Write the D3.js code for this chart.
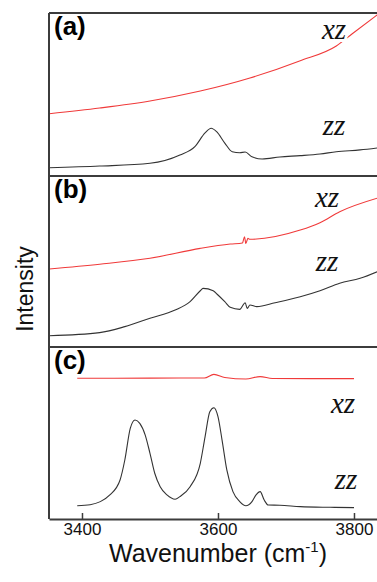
<!DOCTYPE html>
<html>
<head>
<meta charset="utf-8">
<script src="https://cdn.jsdelivr.net/npm/d3@7"></script>
<style>
  body { margin: 0; background: #fff; }
  svg { display: block; }
</style>
</head>
<body>
<div id="chart"></div>
<script>
// Raman spectra, intensity in arbitrary units (0-100 per panel)
const panelNames = ['(a)', '(b)', '(c)']

const aXzWave = [3352, 3426, 3500, 3574, 3647, 3720, 3774, 3797, 3834]
const aXzInt = [38.2, 41.7, 46.0, 52.1, 60.1, 70.6, 79.8, 87.1, 98.8]
const aZzWave = [3352, 3426, 3500, 3544, 3566, 3581, 3590, 3598, 3610, 3621, 3632, 3640, 3650, 3665, 3691, 3721, 3750, 3774, 3809, 3834]
const aZzInt = [5.1, 6.1, 7.8, 12.9, 18.0, 26.4, 29.3, 27.2, 20.2, 14.9, 14.3, 14.7, 11.8, 10.4, 11.7, 12.5, 13.5, 14.9, 16.0, 17.2]

const bXzWave = [3352, 3426, 3500, 3574, 3618, 3636, 3639, 3641, 3644, 3647, 3721, 3750, 3779, 3834]
const bXzInt = [45.6, 48.4, 51.9, 57.7, 60.2, 60.8, 64.5, 60.5, 63.5, 63.0, 68.4, 72.7, 79.1, 87.0]
const bZzWave = [3352, 3426, 3463, 3500, 3537, 3559, 3574, 3578, 3593, 3600, 3610, 3618, 3632, 3640, 3643, 3647, 3657, 3684, 3721, 3750, 3779, 3809, 3834]
const bZzInt = [6.6, 8.4, 11.9, 16.8, 21.6, 26.5, 32.9, 34.3, 32.9, 30.4, 26.5, 23.2, 22.0, 25.9, 22.6, 24.6, 23.6, 25.9, 29.4, 32.9, 37.3, 40.2, 44.0]

const cXzWave = [3393, 3500, 3580, 3594, 3610, 3641, 3662, 3680, 3740, 3800]
const cXzInt = [81.8, 81.9, 82.0, 84.1, 82.3, 81.4, 82.8, 81.7, 81.6, 81.6]
const cZzWave = [3393, 3412, 3427, 3441, 3456, 3463, 3471, 3478, 3485, 3493, 3500, 3507, 3515, 3525, 3537, 3544, 3559, 3574, 3581, 3588, 3594, 3600, 3606, 3613, 3622, 3632, 3641, 3650, 3656, 3662, 3668, 3674, 3691, 3721, 3765, 3800]
const cZzInt = [7.7, 8.3, 10.1, 14.0, 22.7, 34.3, 52.7, 57.6, 55.6, 48.8, 38.2, 26.6, 18.8, 14.0, 11.5, 13.0, 18.8, 32.4, 47.8, 62.4, 64.7, 59.5, 45.9, 28.5, 15.9, 10.1, 7.7, 10.1, 14.0, 15.9, 11.0, 8.1, 8.0, 7.2, 6.8, 6.6]

const xTicks = [3400, 3600, 3800]

const WIDTH = 377
const HEIGHT = 582
const MARGIN = { left: 49, top: 13 }
const PLOT_WIDTH = 340 // runs past the right edge of the window, like the original
const PANEL_HEIGHTS = [163, 171, 172]
const RED = '#f03a3a'
const DARK = '#333'
const FRAME = '#3c3c3c'

const panels = [
  {
    name: panelNames[0],
    xz: d3.zip(aXzWave, aXzInt),
    zz: d3.zip(aZzWave, aZzInt),
    xzLabel: [334, 39],
    zzLabel: [334, 135]
  },
  {
    name: panelNames[1],
    xz: d3.zip(bXzWave, bXzInt),
    zz: d3.zip(bZzWave, bZzInt),
    xzLabel: [327, 207],
    zzLabel: [327, 271]
  },
  {
    name: panelNames[2],
    xz: d3.zip(cXzWave, cXzInt),
    zz: d3.zip(cZzWave, cZzInt),
    xzLabel: [343, 413],
    zzLabel: [346, 489]
  }
]

const svg = d3.select('#chart')
  .append('svg')
  .attr('width', WIDTH)
  .attr('height', HEIGHT)

const xScale = d3.scaleLinear()
  .domain([3351.5, 3851.5])
  .range([MARGIN.left, MARGIN.left + PLOT_WIDTH])

let yTop = MARGIN.top
panels.forEach(function (p, i) {
  const h = PANEL_HEIGHTS[i]
  const yScale = d3.scaleLinear()
    .domain([0, 100])
    .range([yTop + h, yTop])

  const line = d3.line()
    .x(d => xScale(d[0]))
    .y(d => yScale(d[1]))
    .curve(d3.curveMonotoneX)

  const g = svg.append('g').attr('class', 'panel')

  g.append('path')
    .datum(p.zz)
    .attr('fill', 'none')
    .attr('stroke', DARK)
    .attr('stroke-width', 1.1)
    .attr('d', line)

  g.append('path')
    .datum(p.xz)
    .attr('fill', 'none')
    .attr('stroke', RED)
    .attr('stroke-width', 1.1)
    .attr('d', line)

  // panel letter
  g.append('text')
    .attr('x', 54)
    .attr('y', yTop + 22)
    .attr('font-family', 'Liberation Sans, Arial, sans-serif')
    .attr('font-weight', 'bold')
    .attr('font-size', 26)
    .text(p.name)

  // polarisation labels, white halo breaks the line behind them
  const labels = [['xz', p.xzLabel], ['zz', p.zzLabel]]
  labels.forEach(function (l) {
    g.append('text')
      .attr('x', l[1][0])
      .attr('y', l[1][1])
      .attr('text-anchor', 'middle')
      .attr('font-family', 'Liberation Serif, Times New Roman, serif')
      .attr('font-style', 'italic')
      .attr('font-size', 29)
      .attr('fill', '#111')
      .attr('stroke', '#fff')
      .attr('stroke-width', 6)
      .attr('paint-order', 'stroke')
      .text(l[0])
  })

  // separator / top line
  svg.append('line')
    .attr('x1', MARGIN.left)
    .attr('x2', WIDTH)
    .attr('y1', yTop)
    .attr('y2', yTop)
    .attr('stroke', FRAME)
    .attr('stroke-width', 2)

  yTop += h
})

// bottom axis with inward ticks
const xAxis = svg.append('g')
  .attr('transform', 'translate(0,' + yTop + ')')
  .call(d3.axisBottom(xScale)
    .tickValues(xTicks)
    .tickSizeInner(-6)
    .tickSizeOuter(0)
    .tickPadding(4)
    .tickFormat(d3.format('d')))
xAxis.select('.domain').attr('stroke', FRAME).attr('stroke-width', 2)
xAxis.selectAll('.tick line').attr('stroke', FRAME).attr('stroke-width', 1.5)
xAxis.selectAll('.tick text')
  .attr('font-family', 'Liberation Sans, Arial, sans-serif')
  .attr('font-size', 17)
  .attr('fill', '#111')

// left frame
svg.append('line')
  .attr('x1', MARGIN.left)
  .attr('x2', MARGIN.left)
  .attr('y1', MARGIN.top)
  .attr('y2', yTop)
  .attr('stroke', FRAME)
  .attr('stroke-width', 2)

// axis titles
const xTitle = svg.append('text')
  .attr('x', 218)
  .attr('y', 562)
  .attr('text-anchor', 'middle')
  .attr('font-family', 'Liberation Sans, Arial, sans-serif')
  .attr('font-size', 25)
  .attr('fill', '#111')
xTitle.append('tspan').text('Wavenumber (cm')
xTitle.append('tspan').attr('font-size', 15).attr('dy', -10).text('-1')
xTitle.append('tspan').attr('dy', 10).text(')')

svg.append('text')
  .attr('transform', 'translate(33,289) rotate(-90)')
  .attr('text-anchor', 'middle')
  .attr('font-family', 'Liberation Sans, Arial, sans-serif')
  .attr('font-size', 23)
  .attr('fill', '#111')
  .text('Intensity')
</script>
</body>
</html>
